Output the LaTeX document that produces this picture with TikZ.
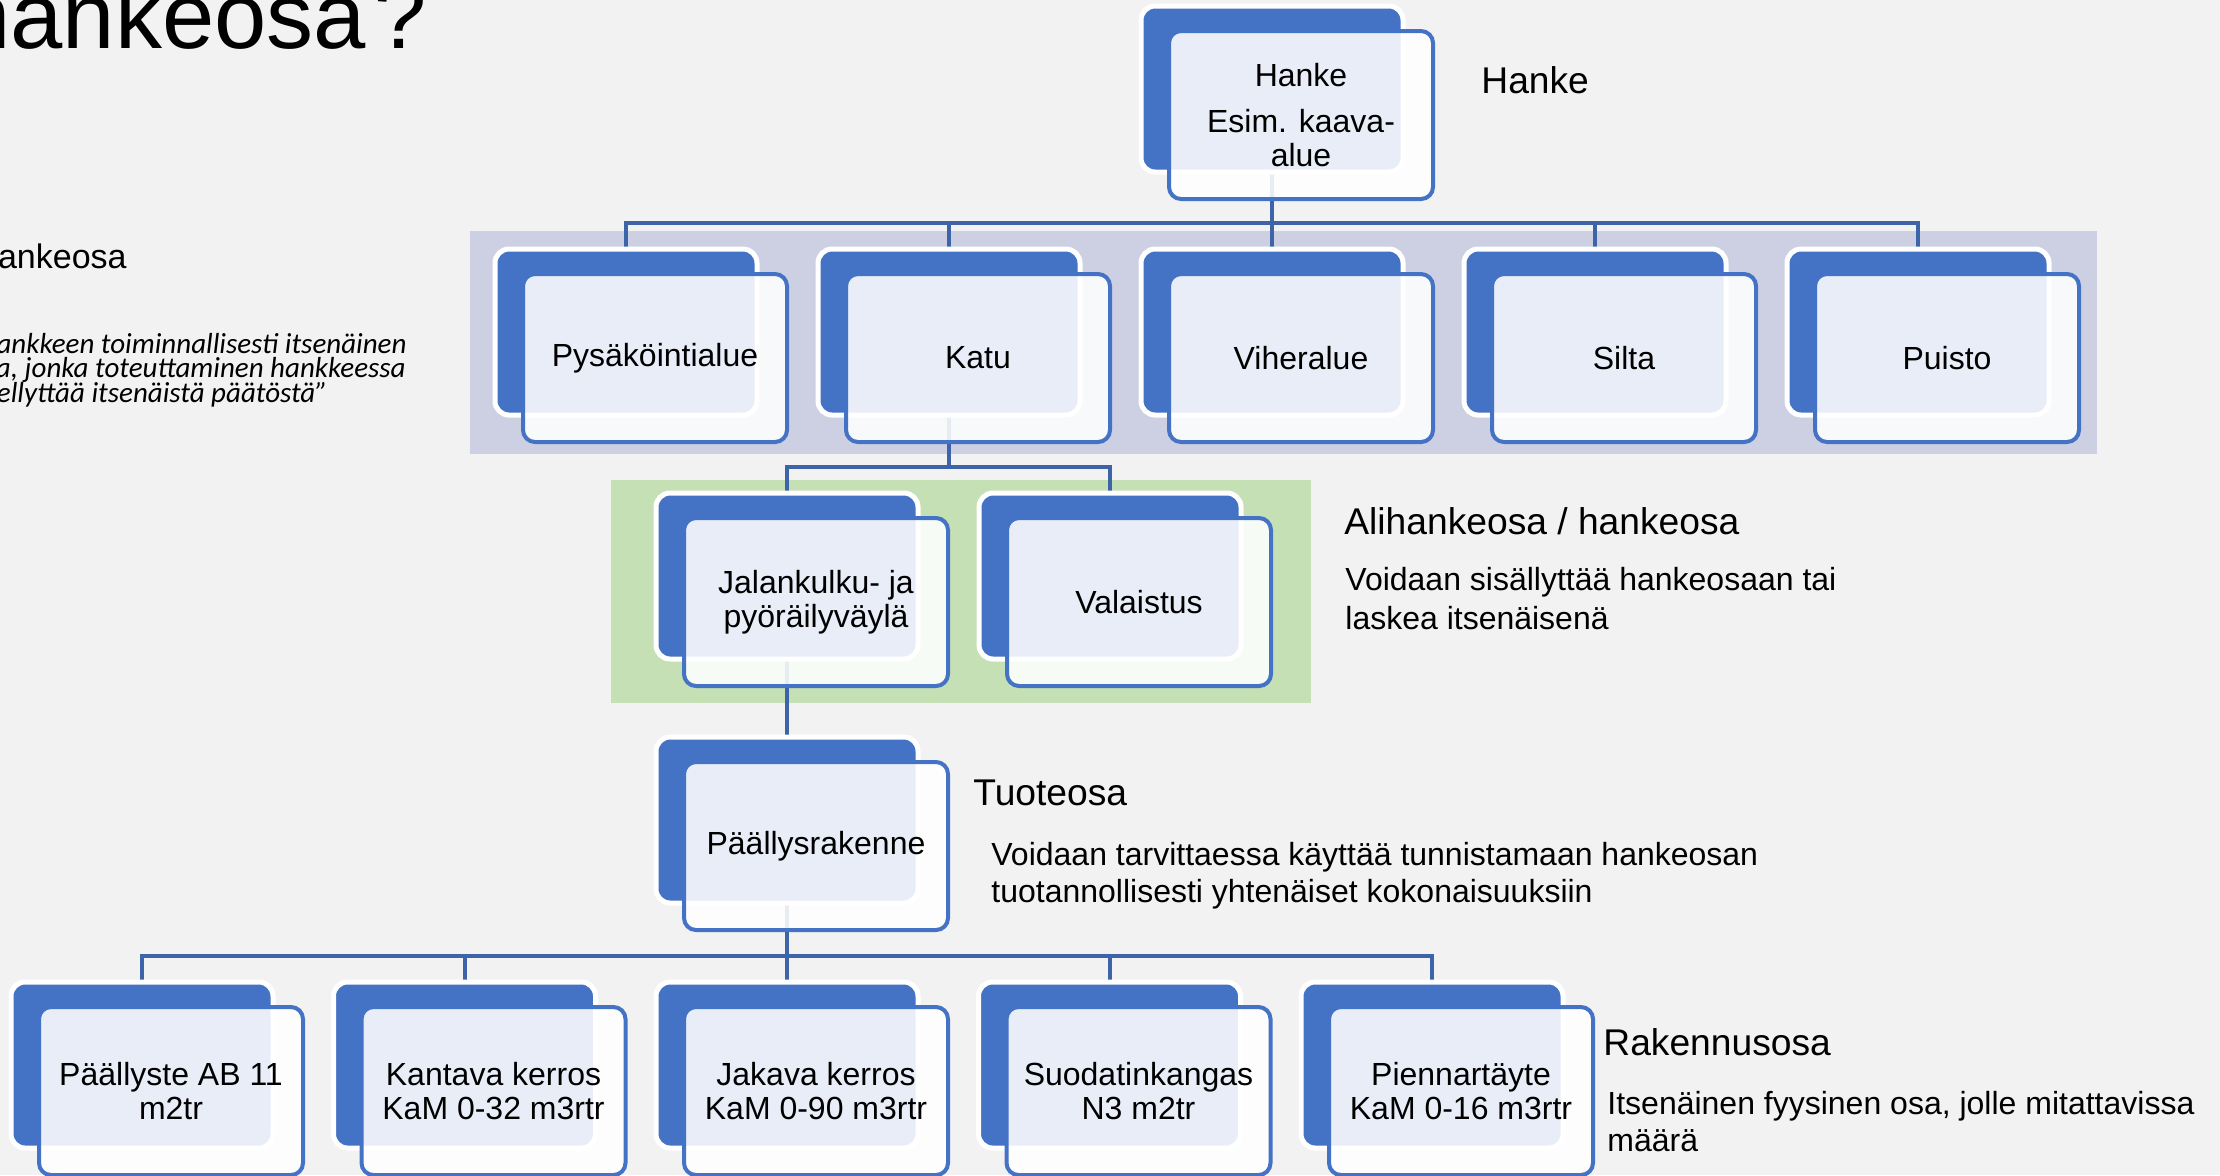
\documentclass[tikz,border=0pt]{standalone}
\usepackage{fontspec}
\setmainfont{Liberation Sans}
\newfontfamily\calfont{Carlito}

\pgfdeclarelayer{bg}
\pgfsetlayers{bg,main}

\definecolor{pagegray}{RGB}{242,242,242}
\definecolor{boxblue}{RGB}{68,114,196}
\definecolor{linkblue}{RGB}{61,99,168}
\definecolor{bandgray}{RGB}{205,208,227}
\definecolor{bandgreen}{RGB}{197,224,180}

\begin{document}
\begin{tikzpicture}[
  x=0.5pt, y=-0.5pt,
  bkbox/.style={draw=white, line width=2.5pt, fill=boxblue, rounded corners=7pt,
    minimum width=131pt, minimum height=83pt, inner sep=0pt, outer sep=0pt},
  frbox/.style={draw=boxblue, line width=2pt, fill=white, fill opacity=0.88, text opacity=1,
    rounded corners=6pt, minimum width=132pt, minimum height=84pt, inner sep=2pt,
    outer sep=0pt, align=center, font=\fontsize{16}{16.8}\selectfont},
  conn/.style={draw=linkblue, line width=2pt},
  lbl/.style={anchor=base west, inner sep=0pt, font=\fontsize{18.6}{21}\selectfont},
  desc/.style={anchor=base west, inner sep=0pt, font=\fontsize{16}{19}\selectfont},
  quote/.style={anchor=base east, inner sep=0pt, font=\calfont\itshape\fontsize{14.5}{16}\selectfont},
]

\useasboundingbox (0,0) rectangle (2220,1175);
\clip (0,0) rectangle (2220,1175);

\coordinate (bus1) at (0,223);
\coordinate (bus2) at (0,467);
\coordinate (bus3) at (0,956);

% title and left column (cut by the page edge)
\node[anchor=base west, inner sep=0pt, font=\fontsize{47}{50}\selectfont] (title) at (-42,48) {hankeosa\kern4.5pt?};
\node[lbl, anchor=base east, font=\fontsize{17}{20}\selectfont] (hosa) at (127,268) {Hankeosa};
\node[quote] (q1) at (407,353) {hankkeen toiminnallisesti itsenäinen};
\node[quote] (q2) at (406,377) {osa, jonka toteuttaminen hankkeessa};
\node[quote] (q3) at (328,402) {edellyttää itsenäistä päätöstä”};

% hanke
\node[bkbox] (hanke-b) at (1272,89) {};
\node[frbox] (hanke) at (1301,115) {Hanke\\[6pt]Esim. kaava-\\alue};

% hankeosat
\node[bkbox] (pys-b) at (626,332) {};
\node[frbox] (pys) at (655,358) {Pysäköintialue};
\node[bkbox] (katu-b) at (949,332) {};
\node[frbox] (katu) at (978,358) {Katu};
\node[bkbox] (vih-b) at (1272,332) {};
\node[frbox] (vih) at (1301,358) {Viheralue};
\node[bkbox] (silta-b) at (1595,332) {};
\node[frbox] (silta) at (1624,358) {Silta};
\node[bkbox] (puisto-b) at (1918,332) {};
\node[frbox] (puisto) at (1947,358) {Puisto};

% alihankeosat
\node[bkbox] (jkpp-b) at (787,576) {};
\node[frbox] (jkpp) at (816,602) {Jalankulku- ja\\pyöräilyväylä};
\node[bkbox] (valo-b) at (1110,576) {};
\node[frbox] (valo) at (1139,602) {Valaistus};

% tuoteosa
\node[bkbox] (pr-b) at (787,820) {};
\node[frbox] (pr) at (816,846) {Päällysrakenne};

% rakennusosat
\node[bkbox] (ab-b) at (142,1065) {};
\node[frbox] (ab) at (171,1091) {Päällyste AB 11\\m2tr};
\node[bkbox] (kan-b) at (464.5,1065) {};
\node[frbox] (kan) at (493.5,1091) {Kantava kerros\\KaM 0-32 m3rtr};
\node[bkbox] (jak-b) at (787,1065) {};
\node[frbox] (jak) at (816,1091) {Jakava kerros\\KaM 0-90 m3rtr};
\node[bkbox] (suo-b) at (1109.5,1065) {};
\node[frbox] (suo) at (1138.5,1091) {Suodatinkangas\\N3 m2tr};
\node[bkbox] (pie-b) at (1432,1065) {};
\node[frbox] (pie) at (1461,1091) {Piennartäyte\\KaM 0-16 m3rtr};

% level labels
\node[lbl] (l-hanke) at (1481,93) {Hanke};
\node[lbl] (l-ali) at (1344,534) {Alihankeosa / hankeosa};
\node[desc] (d-ali1) at (1345,590) {Voidaan sisällyttää hankeosaan tai};
\node[desc] (d-ali2) at (1345,629) {laskea itsenäisenä};
\node[lbl] (l-tuote) at (973,805) {Tuoteosa};
\node[desc] (d-tuote1) at (991,865) {Voidaan tarvittaessa käyttää tunnistamaan hankeosan};
\node[desc] (d-tuote2) at (991,902) {tuotannollisesti yhtenäiset kokonaisuuksiin};
\node[lbl] (l-rak) at (1603,1055) {Rakennusosa};
\node[desc] (d-rak1) at (1607,1114) {Itsenäinen fyysinen osa, jolle mitattavissa};
\node[desc] (d-rak2) at (1607,1151) {määrä};

\begin{pgfonlayer}{bg}
\fill[pagegray] (0,0) rectangle (2220,1175);
\fill[bandgray] (470,231) rectangle (2097,454);
\fill[bandgreen] (611,480) rectangle (1311,703);

\foreach \c in {pys,katu,vih,silta,puisto}
  \draw[conn] (hanke-b.center) -- (hanke-b.center |- bus1) -| (\c-b.north);
\foreach \c in {jkpp,valo}
  \draw[conn] (katu-b.center) -- (katu-b.center |- bus2) -| (\c-b.north);
\draw[conn] (jkpp-b.center) -- (pr-b.north);
\foreach \c in {ab,kan,jak,suo,pie}
  \draw[conn] (pr-b.center) -- (pr-b.center |- bus3) -| (\c-b.north);
\end{pgfonlayer}

\end{tikzpicture}
\end{document}
